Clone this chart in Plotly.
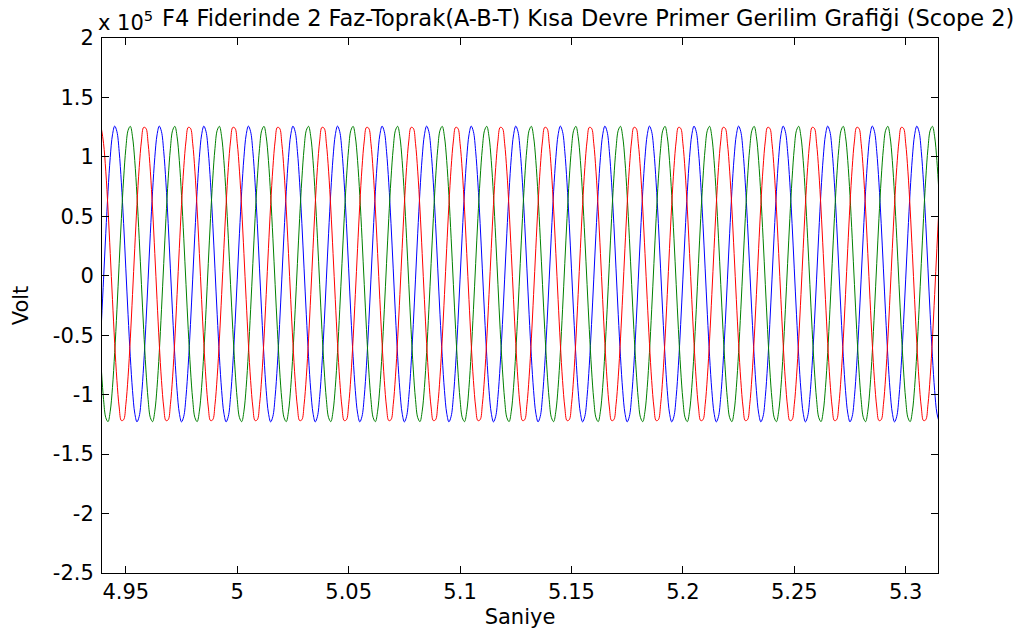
import numpy as np
import plotly.graph_objects as go

# ---- data (values in units of 1e5 V) ----
T_START = 4.939          # s, first sample
DT = 0.001               # s, sample spacing
N_SAMPLES = 377          # up to ~5.315 s

# one 50 Hz cycle (20 samples) of each phase
PHASE_A_CYCLE = [-0.411, -0.028, 0.358, 0.711, 0.996, 1.185, 1.259, 1.212, 1.047, 0.782,
                 0.441, 0.058, -0.328, -0.681, -0.966, -1.155, -1.229, -1.182, -1.017, -0.752]
PHASE_B_CYCLE = [-0.785, -1.041, -1.193, -1.227, -1.139, -0.939, -0.645, -0.286, 0.102, 0.481,
                 0.815, 1.071, 1.223, 1.257, 1.169, 0.969, 0.675, 0.316, -0.072, -0.451]
PHASE_C_CYCLE = [1.241, 1.114, 0.880, 0.561, 0.188, -0.201, -0.570, -0.881, -1.104, -1.218,
                 -1.211, -1.084, -0.850, -0.531, -0.158, 0.231, 0.600, 0.911, 1.134, 1.248]

PHASE_NAMES = ["Faz A", "Faz B", "Faz C"]
PHASE_COLORS = ["#0000FF", "#008000", "#FF0000"]

X_TICKS = [4.95, 5.0, 5.05, 5.1, 5.15, 5.2, 5.25, 5.3]
X_TICK_LABELS = ["4.95", "5", "5.05", "5.1", "5.15", "5.2", "5.25", "5.3"]
Y_TICKS = [2, 1.5, 1, 0.5, 0, -0.5, -1, -1.5, -2, -2.5]
Y_TICK_LABELS = ["2", "1.5", "1", "0.5", "0", "-0.5", "-1", "-1.5", "-2", "-2.5"]

X_RANGE = [4.9393, 5.3145]
Y_RANGE = [-2.5, 2]

TITLE = "F4 Fiderinde 2 Faz-Toprak(A-B-T) Kısa Devre Primer Gerilim Grafiği (Scope 2)"

# ---- build ----
t = T_START + DT * np.arange(N_SAMPLES)
reps = N_SAMPLES // 20 + 1
cycles = [PHASE_A_CYCLE, PHASE_B_CYCLE, PHASE_C_CYCLE]

FONT = "DejaVu Sans, sans-serif"

fig = go.Figure()
for name, col, cyc in zip(PHASE_NAMES, PHASE_COLORS, cycles):
    y = np.tile(np.array(cyc), reps)[:N_SAMPLES]
    fig.add_trace(go.Scatter(x=t, y=y, mode="lines", name=name,
                             line=dict(color=col, width=1, shape="spline", smoothing=1.0),
                             showlegend=False))

axis_common = dict(showline=True, linecolor="black", linewidth=1, mirror="allticks",
                   ticks="inside", ticklen=7, tickcolor="black", tickwidth=1,
                   showgrid=False, zeroline=False,
                   tickfont=dict(family=FONT, size=21, color="black"))

fig.update_xaxes(range=X_RANGE, tickvals=X_TICKS, ticktext=X_TICK_LABELS,
                 title=dict(text="Saniye", font=dict(family=FONT, size=21, color="black"), standoff=6),
                 **axis_common)
fig.update_yaxes(range=Y_RANGE, tickvals=Y_TICKS, ticktext=Y_TICK_LABELS, ticklabelstandoff=3,
                 title=dict(text="Volt", font=dict(family=FONT, size=21, color="black"), standoff=18),
                 **axis_common)

fig.add_annotation(x=0, y=1, xref="paper", yref="paper", xanchor="left", yanchor="bottom",
                   xshift=-6, yshift=1, showarrow=False,
                   text="x 10<sup>5</sup>", font=dict(family=FONT, size=21, color="black"))
fig.add_annotation(x=0, y=1, xref="paper", yref="paper", xanchor="left", yanchor="bottom",
                   xshift=58, yshift=5, showarrow=False,
                   text=TITLE, font=dict(family=FONT, size=22.5, color="black"))

# page body has an 8px margin; plot area lands at x 97..938, y 38..573 on the page
fig.update_layout(width=1025, height=629,
                  margin=dict(l=89, r=95, t=30, b=64),
                  plot_bgcolor="white", paper_bgcolor="white")

fig.write_html("out.html")
